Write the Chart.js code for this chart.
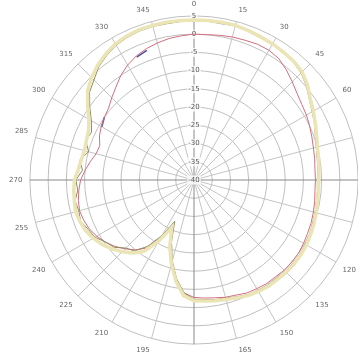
<!DOCTYPE html>
<html>
<head>
<meta charset="utf-8">
<script src="https://cdn.jsdelivr.net/npm/chart.js@4.4.1/dist/chart.umd.min.js"></script>
<style>
  html, body { margin: 0; padding: 0; background: #fff; overflow: hidden; }
  #wrap { position: absolute; left: 0; top: 0; width: 386px; height: 360px; }
</style>
</head>
<body>
<div id="wrap"><canvas id="c" width="386" height="360"></canvas></div>
<script>
// Azimuth angles in degrees (clockwise from top), 5° step
const angles = [];
for (let a = 0; a < 360; a += 5) angles.push(a);

// Radial tick levels (dB)
const dbMin = -40;
const dbMax = 5;
const dbStep = 5;

// Measured patterns (dB) at each azimuth
const coPolA = [
  3.9, 3.9, 3.9, 3.9, 3.6, 3.3, 3.1, 2.8, 2.5, 1.9, 0.6, -1.1,
  -2.2, -3.3, -4.2, -5.0, -5.3, -5.6, -5.8, -5.8, -5.6, -5.3, -5.0, -4.7,
  -4.4, -4.2, -4.2, -4.2, -4.4, -4.4, -4.7, -5.0, -5.6, -6.1, -6.4, -6.7,
  -6.9, -8.1, -11.7, -16.1, -20.6, -25.6, -20.6, -16.1, -13.9, -12.2, -10.6, -9.2,
  -8.1, -7.2, -6.7, -6.4, -6.7, -6.9, -7.2, -8.1, -8.6, -8.9, -8.6, -8.1,
  -6.7, -4.4, -1.9, -0.3, 1.1, 2.2, 3.1, 3.6, 3.9, 3.9, 3.9, 3.9
];
const coPolB = [
  3.6, 3.7, 3.5, 3.8, 3.4, 3.0, 3.0, 2.5, 2.3, 1.5, 0.2, -1.4,
  -2.6, -3.5, -4.6, -5.3, -5.7, -5.9, -6.2, -6.0, -5.9, -5.6, -5.4, -5.0,
  -4.8, -4.5, -4.6, -4.5, -4.8, -4.7, -5.1, -5.3, -5.9, -6.5, -6.7, -7.1,
  -7.3, -8.9, -12.5, -17.0, -22.0, -27.5, -22.4, -17.8, -14.6, -13.6, -11.3, -10.4,
  -8.6, -8.0, -6.9, -7.3, -6.9, -8.0, -7.6, -9.3, -8.2, -10.1, -8.4, -9.0,
  -7.5, -5.1, -2.6, -1.2, 0.6, 1.7, 2.7, 3.2, 3.5, 3.6, 3.5, 3.6
];
const crossPol = [
  0.0, 0.0, 0.3, 0.6, 0.8, 1.1, 1.1, 0.6, -0.6, -1.9, -3.1, -3.9,
  -4.4, -5.0, -5.6, -6.1, -6.4, -6.7, -6.7, -6.7, -6.4, -6.1, -5.8, -5.6,
  -5.3, -5.0, -5.0, -5.0, -5.3, -5.3, -5.6, -5.8, -6.4, -6.7, -7.2, -7.5,
  -7.8, -8.9, -12.2, -16.7, -21.1, -26.1, -21.7, -17.2, -15.0, -13.3, -11.7, -10.3,
  -9.2, -8.3, -7.8, -7.5, -7.8, -8.3, -8.9, -10.0, -11.1, -12.2, -12.5, -11.4,
  -10.6, -10.0, -9.4, -8.1, -6.7, -5.0, -3.6, -2.5, -1.7, -1.1, -0.6, -0.3
];
const markerTrace = [
  null, null, null, null, null, null, null, null, null, null, null, null,
  null, null, null, null, null, null, null, null, null, null, null, null,
  null, null, null, null, null, null, null, null, null, null, null, null,
  null, null, null, null, null, null, null, null, null, null, null, null,
  null, null, null, null, null, null, null, null, null, null, null, null,
  -10.8, -10.0, null, null, null, null, null, -2.8, -2.2, null, null, null
];

const spokeEvery = 15;
const ctx = document.getElementById('c').getContext('2d');

new Chart(ctx, {
  type: 'radar',
  data: {
    labels: angles.map(String),
    datasets: [
      { data: coPolA, borderColor: '#ebe4b4', borderWidth: 3.5, pointRadius: 0, fill: false, tension: 0 },
      { data: coPolB, borderColor: '#8e8c5c', borderWidth: 1, pointRadius: 0, fill: false, tension: 0 },
      { data: crossPol, borderColor: '#d26e80', borderWidth: 1, pointRadius: 0, fill: false, tension: 0 },
      { data: markerTrace, borderColor: '#4a4fb0', borderWidth: 1.5, pointRadius: 0, fill: false, spanGaps: false }
    ]
  },
  options: {
    responsive: false,
    devicePixelRatio: 1,
    animation: false,
    layout: { padding: 0 },
    plugins: { legend: { display: false }, tooltip: { enabled: false } },
    scales: {
      r: {
        min: dbMin,
        max: dbMax,
        startAngle: 0,
        ticks: {
          stepSize: dbStep,
          font: { family: 'DejaVu Sans', size: 7 },
          color: '#555',
          backdropColor: 'rgba(255,255,255,0.8)',
          backdropPadding: 1
        },
        grid: { circular: true, color: '#bfbfbf', lineWidth: 1 },
        angleLines: {
          color: (c) => (angles[c.index] % 90 === 0 ? '#8a8a8a' : '#c4c4c4'),
          lineWidth: (c) => (angles[c.index] % spokeEvery === 0 ? 1 : 0)
        },
        pointLabels: {
          font: { family: 'DejaVu Sans', size: 7 },
          color: '#666',
          padding: 3,
          callback: (label, i) => (angles[i] % spokeEvery === 0 ? label : '')
        }
      }
    }
  }
});
</script>
</body>
</html>
